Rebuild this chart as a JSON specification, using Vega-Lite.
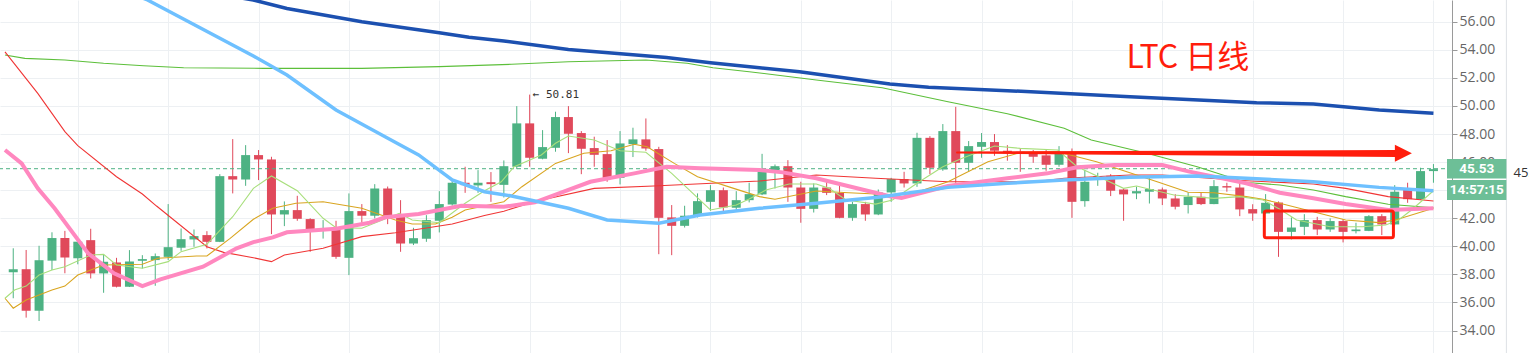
{
  "$schema": "https://vega.github.io/schema/vega-lite/v6.json",
  "width": 1452,
  "height": 353,
  "autosize": {"type": "none"},
  "padding": {"left": 0, "top": 0, "right": 77, "bottom": 0},
  "background": "#ffffff",
  "config": {"view": {"stroke": null}},
  "datasets": {
    "candles": [
      {"i":0,"o":38.15,"h":39.86,"l":36.30,"c":38.37},
      {"i":1,"o":38.37,"h":39.74,"l":34.92,"c":35.41},
      {"i":2,"o":35.41,"h":40.04,"l":34.68,"c":39.01},
      {"i":3,"o":38.98,"h":41.00,"l":38.31,"c":40.59},
      {"i":4,"o":40.59,"h":41.10,"l":38.08,"c":39.20},
      {"i":5,"o":39.15,"h":40.40,"l":38.72,"c":40.33},
      {"i":6,"o":40.44,"h":41.25,"l":37.71,"c":38.07},
      {"i":7,"o":38.07,"h":39.42,"l":36.69,"c":38.90},
      {"i":8,"o":38.85,"h":39.18,"l":37.07,"c":37.12},
      {"i":9,"o":37.12,"h":39.73,"l":37.10,"c":38.92},
      {"i":10,"o":38.97,"h":39.37,"l":38.42,"c":39.09},
      {"i":11,"o":39.02,"h":39.49,"l":37.19,"c":39.30},
      {"i":12,"o":39.25,"h":43.01,"l":39.02,"c":39.94},
      {"i":13,"o":39.90,"h":41.27,"l":39.68,"c":40.51},
      {"i":14,"o":40.49,"h":41.20,"l":39.97,"c":40.73},
      {"i":15,"o":40.80,"h":41.08,"l":39.85,"c":40.32},
      {"i":16,"o":40.32,"h":45.14,"l":40.30,"c":45.00},
      {"i":17,"o":45.00,"h":47.64,"l":43.77,"c":44.76},
      {"i":18,"o":44.76,"h":47.21,"l":44.31,"c":46.50},
      {"i":19,"o":46.50,"h":46.86,"l":44.72,"c":46.19},
      {"i":20,"o":46.19,"h":46.38,"l":40.87,"c":42.27},
      {"i":21,"o":42.27,"h":43.20,"l":41.44,"c":42.58},
      {"i":22,"o":42.58,"h":43.60,"l":41.82,"c":41.96},
      {"i":23,"o":41.94,"h":42.00,"l":39.61,"c":41.23},
      {"i":24,"o":41.20,"h":41.87,"l":40.55,"c":41.28},
      {"i":25,"o":41.16,"h":41.82,"l":39.11,"c":39.25},
      {"i":26,"o":39.18,"h":43.77,"l":37.95,"c":42.51},
      {"i":27,"o":42.51,"h":43.01,"l":41.68,"c":42.18},
      {"i":28,"o":42.18,"h":44.43,"l":41.99,"c":44.12},
      {"i":29,"o":44.12,"h":44.26,"l":41.58,"c":42.18},
      {"i":30,"o":42.18,"h":43.29,"l":39.61,"c":40.20},
      {"i":31,"o":40.20,"h":41.32,"l":40.09,"c":40.58},
      {"i":32,"o":40.54,"h":42.22,"l":40.32,"c":41.87},
      {"i":33,"o":41.82,"h":43.93,"l":40.99,"c":43.01},
      {"i":34,"o":42.98,"h":44.72,"l":42.89,"c":44.53},
      {"i":35,"o":44.53,"h":45.67,"l":43.81,"c":44.36},
      {"i":36,"o":44.34,"h":45.43,"l":43.81,"c":44.53},
      {"i":37,"o":44.57,"h":45.29,"l":43.17,"c":44.43},
      {"i":38,"o":44.38,"h":46.12,"l":43.48,"c":45.71},
      {"i":39,"o":45.67,"h":49.99,"l":45.50,"c":48.76},
      {"i":40,"o":48.76,"h":50.81,"l":45.67,"c":46.31},
      {"i":41,"o":46.24,"h":48.28,"l":46.20,"c":47.07},
      {"i":42,"o":47.02,"h":49.59,"l":46.74,"c":49.21},
      {"i":43,"o":49.21,"h":49.99,"l":46.64,"c":48.02},
      {"i":44,"o":48.07,"h":48.21,"l":45.14,"c":46.95},
      {"i":45,"o":47.00,"h":47.81,"l":45.67,"c":46.52},
      {"i":46,"o":46.57,"h":47.57,"l":44.60,"c":44.88},
      {"i":47,"o":44.88,"h":48.21,"l":44.41,"c":47.33},
      {"i":48,"o":47.28,"h":48.45,"l":46.36,"c":47.62},
      {"i":49,"o":47.62,"h":49.11,"l":46.81,"c":46.97},
      {"i":50,"o":46.93,"h":47.09,"l":39.44,"c":42.03},
      {"i":51,"o":42.06,"h":42.94,"l":39.37,"c":41.46},
      {"i":52,"o":41.46,"h":42.89,"l":41.34,"c":42.18},
      {"i":53,"o":42.18,"h":43.77,"l":42.06,"c":43.22},
      {"i":54,"o":43.17,"h":44.36,"l":42.53,"c":44.00},
      {"i":55,"o":44.00,"h":44.19,"l":42.41,"c":42.77},
      {"i":56,"o":42.75,"h":43.93,"l":42.58,"c":43.29},
      {"i":57,"o":43.29,"h":44.53,"l":43.13,"c":43.72},
      {"i":58,"o":43.70,"h":46.59,"l":43.65,"c":45.31},
      {"i":59,"o":45.33,"h":45.83,"l":44.12,"c":45.71},
      {"i":60,"o":45.71,"h":46.14,"l":43.17,"c":44.19},
      {"i":61,"o":44.19,"h":44.60,"l":41.68,"c":42.67},
      {"i":62,"o":42.67,"h":44.48,"l":42.41,"c":44.19},
      {"i":63,"o":44.19,"h":44.72,"l":43.65,"c":43.81},
      {"i":64,"o":43.81,"h":44.55,"l":42.00,"c":42.03},
      {"i":65,"o":42.03,"h":43.17,"l":41.82,"c":43.01},
      {"i":66,"o":43.01,"h":43.17,"l":41.82,"c":42.27},
      {"i":67,"o":42.27,"h":44.05,"l":42.22,"c":43.84},
      {"i":68,"o":43.84,"h":44.88,"l":43.17,"c":44.79},
      {"i":69,"o":44.79,"h":45.31,"l":44.19,"c":44.48},
      {"i":70,"o":44.48,"h":48.09,"l":44.24,"c":47.73},
      {"i":71,"o":47.73,"h":47.85,"l":45.14,"c":45.60},
      {"i":72,"o":45.48,"h":48.71,"l":45.38,"c":48.21},
      {"i":73,"o":48.21,"h":49.94,"l":44.53,"c":45.95},
      {"i":74,"o":45.95,"h":47.50,"l":45.31,"c":47.14},
      {"i":75,"o":47.09,"h":48.07,"l":46.31,"c":47.43},
      {"i":76,"o":47.43,"h":48.00,"l":46.45,"c":46.81},
      {"i":77,"o":46.81,"h":47.21,"l":46.10,"c":46.62},
      {"i":78,"o":46.74,"h":46.93,"l":45.31,"c":46.57},
      {"i":79,"o":46.66,"h":46.86,"l":45.95,"c":46.38},
      {"i":80,"o":46.48,"h":46.86,"l":45.38,"c":45.81},
      {"i":81,"o":45.81,"h":47.14,"l":45.67,"c":46.62},
      {"i":82,"o":46.62,"h":46.97,"l":42.03,"c":43.17},
      {"i":83,"o":43.22,"h":45.43,"l":42.82,"c":44.60},
      {"i":84,"o":44.76,"h":45.24,"l":44.31,"c":45.00},
      {"i":85,"o":45.03,"h":45.14,"l":43.58,"c":43.96},
      {"i":86,"o":44.05,"h":44.12,"l":41.82,"c":43.70},
      {"i":87,"o":43.77,"h":44.24,"l":43.36,"c":43.93},
      {"i":88,"o":43.89,"h":44.95,"l":43.05,"c":44.08},
      {"i":89,"o":44.05,"h":44.19,"l":42.94,"c":43.41},
      {"i":90,"o":43.41,"h":43.72,"l":42.63,"c":42.82},
      {"i":91,"o":42.94,"h":43.84,"l":42.34,"c":43.53},
      {"i":92,"o":43.53,"h":43.81,"l":42.94,"c":43.01},
      {"i":93,"o":43.01,"h":44.72,"l":43.00,"c":44.29},
      {"i":94,"o":44.29,"h":44.53,"l":43.89,"c":44.19},
      {"i":95,"o":44.19,"h":44.60,"l":42.15,"c":42.63},
      {"i":96,"o":42.65,"h":43.00,"l":41.82,"c":42.34},
      {"i":97,"o":42.34,"h":43.72,"l":42.30,"c":43.10},
      {"i":98,"o":43.12,"h":43.20,"l":39.25,"c":41.03},
      {"i":99,"o":41.03,"h":42.06,"l":40.49,"c":41.34},
      {"i":100,"o":41.39,"h":42.29,"l":40.80,"c":41.87},
      {"i":101,"o":41.87,"h":42.10,"l":40.80,"c":41.20},
      {"i":102,"o":41.20,"h":41.99,"l":41.03,"c":41.80},
      {"i":103,"o":41.80,"h":41.94,"l":40.28,"c":41.03},
      {"i":104,"o":41.08,"h":41.68,"l":40.92,"c":41.20},
      {"i":105,"o":41.10,"h":42.22,"l":41.08,"c":42.15},
      {"i":106,"o":42.15,"h":42.29,"l":40.80,"c":41.56},
      {"i":107,"o":41.56,"h":44.36,"l":41.50,"c":43.89},
      {"i":108,"o":44.05,"h":44.53,"l":43.10,"c":43.36},
      {"i":109,"o":43.36,"h":45.60,"l":43.30,"c":45.36},
      {"i":110,"o":45.36,"h":45.86,"l":44.53,"c":45.50}
    ],
    "ma_darkblue": [
      {"i":15,"v":58.1},{"i":18.6,"v":57.55},{"i":21.2,"v":56.95},{"i":27,"v":56.0},{"i":33,"v":55.22},{"i":35.3,"v":54.89},{"i":38,"v":54.63},{"i":43,"v":54.03},{"i":50.6,"v":53.46},{"i":54,"v":53.08},{"i":57.8,"v":52.72},{"i":60.9,"v":52.44},{"i":67.9,"v":51.56},{"i":70.9,"v":51.33},{"i":77,"v":51.09},{"i":86.5,"v":50.66},{"i":96.3,"v":50.23},{"i":100.7,"v":50.14},{"i":105.8,"v":49.71},{"i":110,"v":49.48}
    ],
    "ma_lightblue": [
      {"i":5,"v":59.6},{"i":10.4,"v":57.55},{"i":18.6,"v":53.56},{"i":21.2,"v":52.20},{"i":25,"v":49.71},{"i":28.8,"v":47.81},{"i":31.4,"v":46.51},{"i":34,"v":44.73},{"i":36.5,"v":43.89},{"i":38.6,"v":43.59},{"i":43,"v":42.71},{"i":46,"v":41.88},{"i":50,"v":41.64},{"i":53.2,"v":42.23},{"i":57.8,"v":42.71},{"i":62.2,"v":43.07},{"i":67,"v":43.5},{"i":72.4,"v":44.2},{"i":77,"v":44.49},{"i":81.4,"v":44.73},{"i":86.5,"v":44.92},{"i":91.7,"v":45.01},{"i":95.5,"v":44.85},{"i":100.7,"v":44.60},{"i":105.8,"v":44.20},{"i":110,"v":43.96}
    ],
    "ma_pink": [
      {"i":-0.64,"v":46.86},{"i":0.65,"v":45.91},{"i":1.9,"v":44.13},{"i":3.2,"v":42.71},{"i":5.8,"v":39.50},{"i":7.8,"v":38.08},{"i":10,"v":37.17},{"i":11.4,"v":37.65},{"i":14.7,"v":38.55},{"i":17.3,"v":39.86},{"i":18.6,"v":40.3},{"i":20.1,"v":40.64},{"i":21.2,"v":41.0},{"i":25,"v":41.26},{"i":27.6,"v":41.68},{"i":28.8,"v":42.07},{"i":31.4,"v":42.30},{"i":34.7,"v":42.89},{"i":38,"v":42.82},{"i":40.4,"v":43.14},{"i":44.7,"v":44.60},{"i":48.1,"v":45.20},{"i":50.6,"v":45.67},{"i":53.2,"v":45.56},{"i":57.8,"v":45.44},{"i":59.6,"v":45.27},{"i":62.2,"v":44.85},{"i":67.8,"v":43.59},{"i":68.8,"v":43.45},{"i":72.4,"v":44.3},{"i":77,"v":44.85},{"i":80.1,"v":45.2},{"i":82.4,"v":45.63},{"i":85.3,"v":45.79},{"i":89,"v":45.79},{"i":91.1,"v":45.32},{"i":95.5,"v":44.49},{"i":98.1,"v":43.82},{"i":100.7,"v":43.42},{"i":103.2,"v":43.02},{"i":106.5,"v":42.59},{"i":110,"v":42.71}
    ],
    "ma_red": [
      {"i":-0.64,"v":53.86},{"i":1.9,"v":50.90},{"i":4,"v":48.17},{"i":5,"v":47.17},{"i":8,"v":44.96},{"i":10,"v":43.73},{"i":11.1,"v":42.87},{"i":15,"v":39.97},{"i":16.3,"v":39.57},{"i":18.6,"v":39.19},{"i":20,"v":38.91},{"i":21,"v":39.38},{"i":24,"v":39.86},{"i":27,"v":40.69},{"i":29.6,"v":40.97},{"i":34,"v":41.59},{"i":36.5,"v":42.2},{"i":38,"v":42.5},{"i":40.4,"v":43.2},{"i":45,"v":44.13},{"i":49.6,"v":44.30},{"i":57.8,"v":44.65},{"i":62.2,"v":45.08},{"i":66.8,"v":44.85},{"i":72.4,"v":44.60},{"i":77,"v":44.6},{"i":79.6,"v":44.65},{"i":81.4,"v":44.85},{"i":86.5,"v":45.08},{"i":89,"v":45.08},{"i":95.5,"v":44.67},{"i":100.7,"v":44.44},{"i":103.2,"v":44.13},{"i":106.5,"v":43.54},{"i":110,"v":43.23}
    ],
    "ma_green": [
      {"i":-0.64,"v":53.63},{"i":0.9,"v":53.39},{"i":4,"v":53.27},{"i":7,"v":53.04},{"i":10.1,"v":52.87},{"i":13.2,"v":52.72},{"i":19.4,"v":52.68},{"i":27,"v":52.68},{"i":33,"v":52.8},{"i":38.6,"v":52.97},{"i":43,"v":53.15},{"i":49,"v":53.27},{"i":52.2,"v":53.04},{"i":54.2,"v":52.72},{"i":57,"v":52.44},{"i":62.2,"v":51.85},{"i":67.3,"v":51.30},{"i":72.4,"v":50.30},{"i":77,"v":49.45},{"i":81.4,"v":48.41},{"i":83.5,"v":47.57},{"i":87.8,"v":46.63},{"i":91.7,"v":45.67},{"i":95.5,"v":44.55},{"i":98.1,"v":44.37},{"i":100.7,"v":44.01},{"i":103.2,"v":43.54},{"i":106.5,"v":43.0},{"i":110,"v":42.75}
    ],
    "ma_yellow": [
      {"i":-0.64,"v":36.30},{"i":0,"v":35.59},{"i":1,"v":36.18},{"i":3,"v":36.89},{"i":4,"v":37.17},{"i":5,"v":37.96},{"i":7,"v":38.67},{"i":10,"v":38.72},{"i":11.2,"v":39.15},{"i":14.2,"v":39.31},{"i":15,"v":39.31},{"i":16.8,"v":40.57},{"i":18.6,"v":41.93},{"i":20.1,"v":42.71},{"i":21.9,"v":43.07},{"i":24,"v":43.18},{"i":27,"v":42.71},{"i":29.6,"v":41.88},{"i":30.9,"v":41.59},{"i":32.7,"v":41.59},{"i":34,"v":42.07},{"i":35,"v":42.59},{"i":38,"v":43.18},{"i":39.4,"v":44.25},{"i":42,"v":45.91},{"i":44.2,"v":46.63},{"i":46.3,"v":46.81},{"i":48.1,"v":47.27},{"i":49.1,"v":47.10},{"i":51.2,"v":45.91},{"i":53,"v":44.96},{"i":55.8,"v":44.13},{"i":57.8,"v":43.54},{"i":59,"v":43.35},{"i":62.2,"v":43.94},{"i":64.7,"v":43.82},{"i":66.8,"v":43.73},{"i":68.8,"v":43.49},{"i":72.4,"v":44.6},{"i":75.5,"v":46.03},{"i":78.1,"v":46.70},{"i":80.9,"v":46.74},{"i":83.9,"v":46.03},{"i":88.6,"v":44.60},{"i":91,"v":43.85},{"i":93,"v":43.82},{"i":95.5,"v":43.54},{"i":96.8,"v":43.35},{"i":98.1,"v":43.07},{"i":100.7,"v":42.47},{"i":103.2,"v":41.88},{"i":105.8,"v":41.69},{"i":107.05,"v":41.88},{"i":110,"v":42.71}
    ],
    "ma_lightgreen": [
      {"i":-0.64,"v":36.30},{"i":0.1,"v":36.89},{"i":1,"v":37.17},{"i":2,"v":37.96},{"i":3,"v":38.31},{"i":4,"v":38.55},{"i":6,"v":39.38},{"i":7,"v":39.43},{"i":8,"v":38.67},{"i":10,"v":38.44},{"i":12,"v":38.91},{"i":13,"v":39.62},{"i":15,"v":40.14},{"i":17,"v":42.11},{"i":18.6,"v":44.13},{"i":20,"v":45.01},{"i":22,"v":43.96},{"i":24,"v":42.0},{"i":25,"v":41.33},{"i":27,"v":41.29},{"i":29.9,"v":42.35},{"i":30.9,"v":41.88},{"i":33,"v":41.68},{"i":35,"v":43.07},{"i":36.5,"v":43.96},{"i":37.8,"v":44.6},{"i":38.8,"v":45.67},{"i":40.9,"v":46.51},{"i":42,"v":47.34},{"i":43,"v":47.86},{"i":45,"v":47.57},{"i":47,"v":46.81},{"i":49,"v":46.70},{"i":51,"v":45.20},{"i":54,"v":42.59},{"i":56,"v":42.94},{"i":57,"v":43.37},{"i":58.3,"v":44.01},{"i":60.1,"v":44.44},{"i":62.2,"v":44.44},{"i":63.2,"v":44.13},{"i":64.5,"v":43.30},{"i":66.8,"v":43.01},{"i":68.1,"v":43.30},{"i":70,"v":44.49},{"i":72,"v":45.67},{"i":73.5,"v":46.27},{"i":76,"v":47.15},{"i":78,"v":46.98},{"i":80.9,"v":46.86},{"i":82.4,"v":45.67},{"i":86,"v":44.13},{"i":87,"v":44.30},{"i":89.9,"v":43.66},{"i":93,"v":43.42},{"i":95,"v":43.54},{"i":96.8,"v":43.30},{"i":98.1,"v":42.64},{"i":99.4,"v":41.88},{"i":102,"v":41.40},{"i":104.5,"v":41.40},{"i":106.3,"v":41.52},{"i":107.3,"v":41.88},{"i":108.3,"v":42.59},{"i":110,"v":43.96}
    ],
    "arrow": [{"i":73.1,"v":46.68},{"i":107.1,"v":46.62}],
    "arrowhead": [{"i":107.67,"v":46.63}],
    "box": [{"i1":96.9,"i2":106.9,"v1":42.52,"v2":40.62}],
    "title": [{"i":90.98,"v":53.45,"t":"LTC 日线"}],
    "peak": [{"i":40,"v":50.81,"t":"← 50.81"}],
    "pricebox": [
      {"i1":111.05,"i2":115.65,"ic":113.35,"v1":46.22,"v2":44.84,"t":"45.53","tv":45.53},
      {"i1":111.05,"i2":115.65,"ic":113.35,"v1":44.73,"v2":43.30,"t":"14:57:15","tv":44.0}
    ],
    "edge": [{"i":115.65}],
    "last": [{"p":45.53}],
    "cut": [{"i":116.2,"v":45.25,"t":"45.53"}]
  },
  "layer": [
    {
      "data": {"name": "candles"},
      "mark": {"type": "rule", "strokeWidth": 1},
      "encoding": {
        "x": {"field": "i", "type": "quantitative", "scale": {"domain": [-0.6385, 111.05], "nice": false, "zero": false}, "axis": {"orient": "bottom", "values": [5,12,19,26,33,40,47,54,61,68,75,82,89,96,103,110], "grid": true, "gridColor": "#edf0f3", "labels": false, "ticks": false, "domain": false, "title": null}},
        "y": {"field": "l", "type": "quantitative", "scale": {"domain": [32.40, 57.55], "nice": false, "zero": false}, "axis": {"orient": "right", "values": [34,36,38,40,42,44,46,48,50,52,54,56], "format": ".2f", "grid": true, "gridColor": "#edf0f3", "domainColor": "#9a9a9a", "tickColor": "#9a9a9a", "tickSize": 5, "labelPadding": 2, "labelFont": "Open Sans", "labelFontSize": 14, "labelColor": "#666666", "title": null}},
        "y2": {"field": "h"},
        "color": {"condition": {"test": "datum.c >= datum.o", "value": "#4db283"}, "value": "#e0495b"}
      }
    },
    {
      "data": {"name": "candles"},
      "mark": {"type": "bar", "size": 9},
      "encoding": {
        "x": {"field": "i", "type": "quantitative", "scale": {"domain": [-0.6385, 111.05], "nice": false, "zero": false}, "axis": {"orient": "bottom", "values": [5,12,19,26,33,40,47,54,61,68,75,82,89,96,103,110], "grid": true, "gridColor": "#edf0f3", "labels": false, "ticks": false, "domain": false, "title": null}},
        "y": {"field": "o", "type": "quantitative", "scale": {"domain": [32.40, 57.55], "nice": false, "zero": false}, "axis": {"orient": "right", "values": [34,36,38,40,42,44,46,48,50,52,54,56], "format": ".2f", "grid": true, "gridColor": "#edf0f3", "domainColor": "#9a9a9a", "tickColor": "#9a9a9a", "tickSize": 5, "labelPadding": 2, "labelFont": "Open Sans", "labelFontSize": 14, "labelColor": "#666666", "title": null}},
        "y2": {"field": "c"},
        "color": {"condition": {"test": "datum.c >= datum.o", "value": "#4db283"}, "value": "#e0495b"}
      }
    },
    {
      "data": {"name": "last"},
      "mark": {"type": "rule", "color": "#4db283", "strokeWidth": 1, "strokeDash": [4, 3]},
      "encoding": {
        "y": {"field": "p", "type": "quantitative", "scale": {"domain": [32.40, 57.55], "nice": false, "zero": false}, "axis": {"orient": "right", "values": [34,36,38,40,42,44,46,48,50,52,54,56], "format": ".2f", "grid": true, "gridColor": "#edf0f3", "domainColor": "#9a9a9a", "tickColor": "#9a9a9a", "tickSize": 5, "labelPadding": 2, "labelFont": "Open Sans", "labelFontSize": 14, "labelColor": "#666666", "title": null}}
      }
    },
    {
      "layer": [
        {"data": {"name": "ma_green"}, "mark": {"type": "line", "color": "#5cbf3a", "strokeWidth": 1.1}},
        {"data": {"name": "ma_red"}, "mark": {"type": "line", "color": "#f03535", "strokeWidth": 1.1}},
        {"data": {"name": "ma_yellow"}, "mark": {"type": "line", "color": "#d9a520", "strokeWidth": 1.1}},
        {"data": {"name": "ma_lightgreen"}, "mark": {"type": "line", "color": "#a8df7c", "strokeWidth": 1.1}},
        {"data": {"name": "ma_pink"}, "mark": {"type": "line", "color": "#ff88bf", "strokeWidth": 4}},
        {"data": {"name": "ma_lightblue"}, "mark": {"type": "line", "color": "#6ec0ff", "strokeWidth": 3.5}},
        {"data": {"name": "ma_darkblue"}, "mark": {"type": "line", "color": "#1c50b0", "strokeWidth": 3.5}},
        {
          "data": {"name": "arrow"},
          "mark": {"type": "trail", "color": "#ff1d0c"},
          "encoding": {"size": {"field": "i", "type": "quantitative", "scale": {"domain": [73.1, 107.1], "range": [2, 7], "zero": false}, "legend": null}}
        },
        {"data": {"name": "arrowhead"}, "mark": {"type": "point", "shape": "M-1,-1L1,0L-1,1Z", "filled": true, "color": "#ff1d0c", "opacity": 1, "size": 289}},
        {
          "data": {"name": "title"},
          "mark": {"type": "text", "font": "Noto Sans CJK SC", "fontSize": 32, "color": "#ff1d0c", "align": "center", "baseline": "middle"},
          "encoding": {"text": {"field": "t"}}
        },
        {
          "data": {"name": "peak"},
          "mark": {"type": "text", "font": "DejaVu Sans Mono", "fontSize": 11, "color": "#333333", "align": "left", "baseline": "middle", "dx": 3},
          "encoding": {"text": {"field": "t"}}
        },
        {
          "data": {"name": "cut"},
          "mark": {"type": "text", "font": "Open Sans", "fontSize": 13, "color": "#333333", "align": "left", "baseline": "middle", "clip": false},
          "encoding": {"text": {"field": "t"}}
        }
      ],
      "encoding": {
        "x": {"field": "i", "type": "quantitative", "scale": {"domain": [-0.6385, 111.05], "nice": false, "zero": false}, "axis": {"orient": "bottom", "values": [5,12,19,26,33,40,47,54,61,68,75,82,89,96,103,110], "grid": true, "gridColor": "#edf0f3", "labels": false, "ticks": false, "domain": false, "title": null}},
        "y": {"field": "v", "type": "quantitative", "scale": {"domain": [32.40, 57.55], "nice": false, "zero": false}, "axis": {"orient": "right", "values": [34,36,38,40,42,44,46,48,50,52,54,56], "format": ".2f", "grid": true, "gridColor": "#edf0f3", "domainColor": "#9a9a9a", "tickColor": "#9a9a9a", "tickSize": 5, "labelPadding": 2, "labelFont": "Open Sans", "labelFontSize": 14, "labelColor": "#666666", "title": null}}
      }
    },
    {
      "data": {"name": "box"},
      "mark": {"type": "rect", "fill": null, "fillOpacity": 0, "stroke": "#ff1d0c", "strokeWidth": 3, "cornerRadius": 2},
      "encoding": {
        "x": {"field": "i1", "type": "quantitative", "scale": {"domain": [-0.6385, 111.05], "nice": false, "zero": false}, "axis": {"orient": "bottom", "values": [5,12,19,26,33,40,47,54,61,68,75,82,89,96,103,110], "grid": true, "gridColor": "#edf0f3", "labels": false, "ticks": false, "domain": false, "title": null}},
        "x2": {"field": "i2"},
        "y": {"field": "v1", "type": "quantitative", "scale": {"domain": [32.40, 57.55], "nice": false, "zero": false}, "axis": {"orient": "right", "values": [34,36,38,40,42,44,46,48,50,52,54,56], "format": ".2f", "grid": true, "gridColor": "#edf0f3", "domainColor": "#9a9a9a", "tickColor": "#9a9a9a", "tickSize": 5, "labelPadding": 2, "labelFont": "Open Sans", "labelFontSize": 14, "labelColor": "#666666", "title": null}},
        "y2": {"field": "v2"}
      }
    },
    {
      "data": {"name": "edge"},
      "mark": {"type": "rule", "color": "#dde1e5", "strokeWidth": 1, "clip": false},
      "encoding": {
        "x": {"field": "i", "type": "quantitative", "scale": {"domain": [-0.6385, 111.05], "nice": false, "zero": false}, "axis": {"orient": "bottom", "values": [5,12,19,26,33,40,47,54,61,68,75,82,89,96,103,110], "grid": true, "gridColor": "#edf0f3", "labels": false, "ticks": false, "domain": false, "title": null}}
      }
    },
    {
      "data": {"name": "pricebox"},
      "layer": [
        {
          "mark": {"type": "rect", "color": "#6dbf97", "opacity": 1, "clip": false},
          "encoding": {
            "x": {"field": "i1", "type": "quantitative", "scale": {"domain": [-0.6385, 111.05], "nice": false, "zero": false}, "axis": {"orient": "bottom", "values": [5,12,19,26,33,40,47,54,61,68,75,82,89,96,103,110], "grid": true, "gridColor": "#edf0f3", "labels": false, "ticks": false, "domain": false, "title": null}},
            "x2": {"field": "i2"},
            "y": {"field": "v1", "type": "quantitative", "scale": {"domain": [32.40, 57.55], "nice": false, "zero": false}, "axis": {"orient": "right", "values": [34,36,38,40,42,44,46,48,50,52,54,56], "format": ".2f", "grid": true, "gridColor": "#edf0f3", "domainColor": "#9a9a9a", "tickColor": "#9a9a9a", "tickSize": 5, "labelPadding": 2, "labelFont": "Open Sans", "labelFontSize": 14, "labelColor": "#666666", "title": null}},
            "y2": {"field": "v2"}
          }
        },
        {
          "mark": {"type": "text", "font": "Roboto", "fontWeight": "bold", "fontSize": 13.5, "color": "#ffffff", "align": "center", "baseline": "middle", "clip": false},
          "encoding": {
            "x": {"field": "ic", "type": "quantitative", "scale": {"domain": [-0.6385, 111.05], "nice": false, "zero": false}, "axis": {"orient": "bottom", "values": [5,12,19,26,33,40,47,54,61,68,75,82,89,96,103,110], "grid": true, "gridColor": "#edf0f3", "labels": false, "ticks": false, "domain": false, "title": null}},
            "y": {"field": "tv", "type": "quantitative", "scale": {"domain": [32.40, 57.55], "nice": false, "zero": false}, "axis": {"orient": "right", "values": [34,36,38,40,42,44,46,48,50,52,54,56], "format": ".2f", "grid": true, "gridColor": "#edf0f3", "domainColor": "#9a9a9a", "tickColor": "#9a9a9a", "tickSize": 5, "labelPadding": 2, "labelFont": "Open Sans", "labelFontSize": 14, "labelColor": "#666666", "title": null}},
            "text": {"field": "t"}
          }
        }
      ]
    }
  ]
}
